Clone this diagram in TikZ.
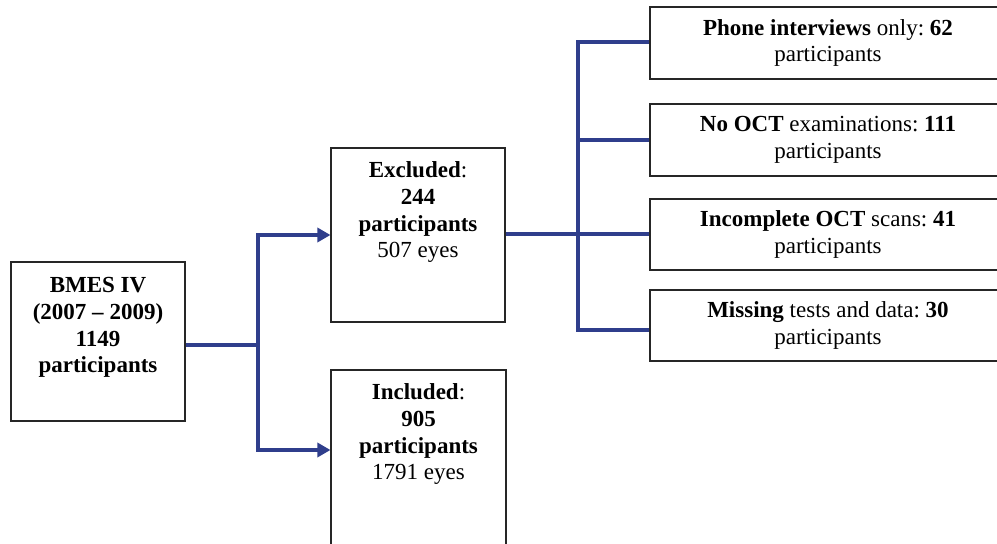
\documentclass[tikz,border=0pt]{standalone}
\usepackage{fontspec}
\setmainfont{Liberation Serif}
\usetikzlibrary{arrows.meta,calc}
\definecolor{linec}{RGB}{47,62,140}
\frenchspacing
\begin{document}
\begin{tikzpicture}[x=1bp,y=-1bp,
  box/.style={draw=black!85,line width=1.1bp,inner sep=0pt},
  txt/.style={font=\fontsize{23bp}{26.7bp}\selectfont,align=center,inner sep=0pt},
  conn/.style={draw=linec,line width=3.8bp},
  arr/.style={conn,-{Triangle[length=13bp,width=14bp]}}]
\useasboundingbox (0,0) rectangle (997,544);
\clip (0,0) rectangle (997,544);
% left column
\node[box,minimum width=174bp,minimum height=159bp] (bmes) at (98,341.5) {};
\node[txt,anchor=north] (bmest) at ($(bmes.north)+(0,16)$)
  {\textbf{BMES IV}\\\textbf{(2007 – 2009)}\\\textbf{1149}\\\textbf{participants}};
% middle column
\node[box,minimum width=174bp,minimum height=174bp] (excl) at (418,235) {};
\node[txt,anchor=north] (exclt) at ($(excl.north)+(0,14)$)
  {\textbf{Excluded}:\\\textbf{244}\\\textbf{participants}\\507 eyes};
\node[box,minimum width=175bp,minimum height=178bp] (incl) at (418.5,459) {};
\node[txt,anchor=north] (inclt) at ($(incl.north)+(0,14)$)
  {\textbf{Included}:\\\textbf{905}\\\textbf{participants}\\1791 eyes};
% right column
\node[box,txt,draw=black!85,minimum width=356bp,minimum height=72bp] (r1) at (828,43)
  {\textbf{Phone interviews} only: \textbf{62}\\participants};
\node[box,txt,draw=black!85,minimum width=356bp,minimum height=72bp] (r2) at (828,140)
  {\textbf{No OCT} examinations: \textbf{111}\\participants};
\node[box,txt,draw=black!85,minimum width=356bp,minimum height=71bp] (r3) at (828,234.5)
  {\textbf{Incomplete OCT} scans: \textbf{41}\\participants};
\node[box,txt,draw=black!85,minimum width=356bp,minimum height=71bp] (r4) at (828,325.5)
  {\textbf{Missing} tests and data: \textbf{30}\\participants};
% connectors
\coordinate (j1) at (258,345);
\draw[conn] (bmes.east |- j1) -- (j1);
\draw[arr] (j1) |- (excl.west);
\draw[arr] (j1) |- ($(incl.west)+(0,-9)$);
\coordinate (j2) at (578,234);
\draw[conn] (excl.east |- j2) -- (j2);
\draw[conn] (j2) |- ($(r1.west)+(0,-1)$);
\draw[conn] (j2) |- (r2.west);
\draw[conn] (j2) -- (r3.west |- j2);
\draw[conn] (j2) |- ($(r4.west)+(0,4.5)$);
\end{tikzpicture}
\end{document}
